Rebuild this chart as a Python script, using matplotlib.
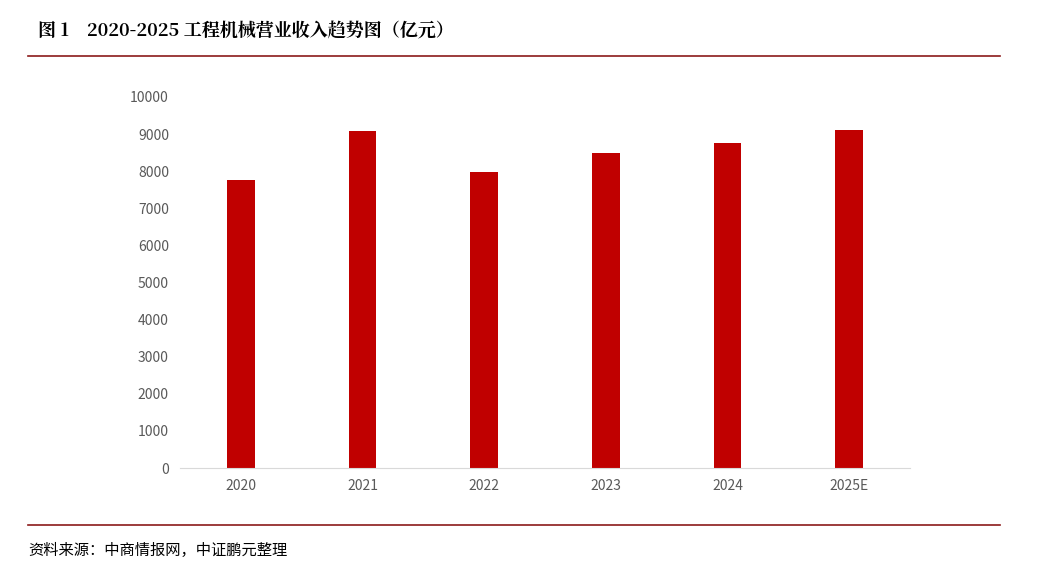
import matplotlib.pyplot as plt
from matplotlib.lines import Line2D

plt.rcParams['font.family'] = ['Noto Sans CJK SC', 'DejaVu Sans']

years = ['2020', '2021', '2022', '2023', '2024', '2025E']
revenue = [7760, 9080, 7980, 8490, 8760, 9110]

fig = plt.figure(figsize=(10.49, 5.79), dpi=100)
W, H = 1049, 579
ax = fig.add_axes([180 / W, 1 - 468 / H, 730 / W, 371 / H])

ax.bar(range(len(years)), revenue, width=0.23, color='#C00000')
ax.set_xlim(-0.5, len(years) - 0.5)
ax.set_ylim(0, 10000)
ax.set_yticks(range(0, 10001, 1000))
ax.set_xticks(range(len(years)))
ax.set_xticklabels(years)
ax.tick_params(length=0, labelsize=10, colors='#595959', pad=8)
for s in ['top', 'right', 'left']:
    ax.spines[s].set_visible(False)
ax.spines['bottom'].set_color('#D9D9D9')

# title and source
fig.text(38 / W, 1 - 32 / H, '图 1    2020-2025 工程机械营业收入趋势图（亿元）',
         fontsize=13, fontweight='bold', va='center', ha='left',
         family=['Noto Serif CJK SC', 'Noto Sans CJK SC', 'DejaVu Serif'])
fig.text(28 / W, 1 - 550 / H, '资料来源：中商情报网，中证鹏元整理',
         fontsize=11, va='center', ha='left')
for yy in (56, 525):
    fig.add_artist(Line2D([28 / W, 1000 / W], [1 - yy / H] * 2,
                          color='#8B1A1A', lw=1.2))

fig.savefig('out.png', dpi=100)
